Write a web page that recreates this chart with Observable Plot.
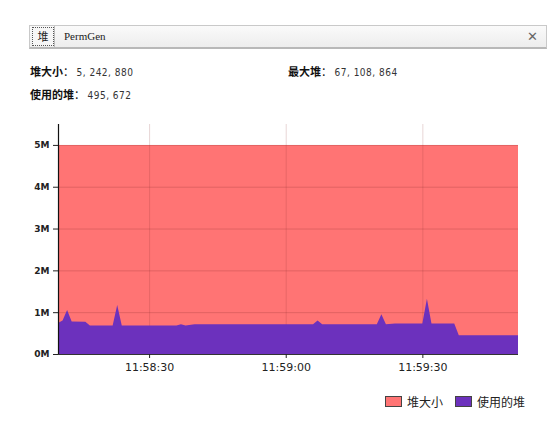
<!DOCTYPE html>
<html><head><meta charset="utf-8">
<script src="https://cdn.jsdelivr.net/npm/d3@7"></script>
<script src="https://cdn.jsdelivr.net/npm/@observablehq/plot@0.6"></script>
<style>
html,body{margin:0;padding:0;background:#fff;width:556px;height:426px;overflow:hidden;font-family:"Noto Sans CJK SC","DejaVu Sans",sans-serif;}
#tabs{position:absolute;left:29px;top:25px;width:516px;height:21px;background:linear-gradient(#fafafa,#ededed);border:1px solid #c9c9c9;border-bottom:2px solid #b8b8b8;}
#tab1{position:absolute;left:2px;top:1px;width:20px;height:17px;border:1px dotted #555;background:#f6f6f6;font-size:11px;line-height:17px;text-align:center;color:#222;}
#tab2{position:absolute;left:24px;top:0;height:21px;border-left:1px solid #bbb;padding-left:9px;font-family:"Liberation Serif","DejaVu Serif",serif;font-size:11px;line-height:21px;color:#222;}
#close{position:absolute;right:8px;top:0;line-height:21px;font-size:13px;color:#666;font-family:"DejaVu Sans",sans-serif;}
.info{position:absolute;font-size:11px;color:#111;}
.info b{font-weight:700;}
.info span{font-family:"DejaVu Sans Condensed","DejaVu Sans",sans-serif;font-size:10px;color:#333;letter-spacing:0.5px;}
#chart{position:absolute;left:0;top:115px;}
#legend{position:absolute;left:385px;top:393px;font-size:12px;color:#222;display:flex;align-items:center;}
.sw{display:inline-block;width:15px;height:9px;border:1px solid #444;margin-right:5px;}
</style></head>
<body>
<div id="tabs"><div id="tab1">堆</div><div id="tab2">PermGen</div><div id="close">✕</div></div>
<div class="info" style="left:30px;top:63px;"><b>堆大小</b>： <span>5, 242, 880</span></div>
<div class="info" style="left:288px;top:63px;"><b>最大堆</b>： <span>67, 108, 864</span></div>
<div class="info" style="left:30px;top:86px;"><b>使用的堆</b>： <span>495, 672</span></div>
<div id="chart"></div>
<div id="legend"><span class="sw" style="background:#ff7474"></span><span style="margin-right:12px">堆大小</span><span class="sw" style="background:#6c31bd"></span><span>使用的堆</span></div>
<script>
// used heap over time (in M)
const times = ["11:58:10","11:58:11","11:58:12","11:58:13","11:58:16","11:58:17","11:58:22","11:58:23","11:58:24","11:58:36","11:58:37","11:58:38","11:58:40","11:59:06","11:59:07","11:59:08","11:59:20","11:59:21","11:59:22","11:59:24","11:59:30","11:59:31","11:59:32","11:59:37","11:59:38","11:59:51"];
const used = [0.74,0.80,1.05,0.78,0.77,0.68,0.68,1.17,0.68,0.68,0.71,0.68,0.71,0.71,0.80,0.71,0.71,0.95,0.71,0.73,0.73,1.32,0.73,0.73,0.45,0.45];
const heapSize = 5; // 5,242,880 bytes = 5M
const xTickLabels = ["11:58:30","11:59:00","11:59:30"];
const yTicks = [0,1,2,3,4,5];
const yMax = 5.5;

const parse = s => new Date(`2000-01-01T${s}Z`);
const data = times.map((t,i)=>({t: parse(t), used: used[i], size: heapSize}));
const fmt = d3.utcFormat("%H:%M:%S");

const chart = Plot.plot({
  width: 556, height: 275,
  marginLeft: 58, marginRight: 38, marginTop: 9, marginBottom: 36,
  style: {fontSize: "10px", fontFamily: "DejaVu Sans, sans-serif", color: "#222", background: "transparent"},
  x: {type: "utc", domain: d3.extent(data, d=>d.t), ticks: xTickLabels.map(parse), tickFormat: fmt, tickSize: 4, tickPadding: 5, label: null},
  y: {domain: [0, yMax], ticks: yTicks, tickFormat: d => d + "M", tickSize: 5, tickPadding: 3, label: null},
  marks: [
    Plot.areaY(data, {x: "t", y: "size", fill: "#ff7474", curve: "linear"}),
    Plot.gridY(yTicks, {stroke: "#8a3030", strokeOpacity: 0.25}),
    Plot.gridX(xTickLabels.map(parse), {stroke: "#8a3030", strokeOpacity: 0.2}),
    Plot.areaY(data, {x: "t", y: "used", fill: "#6c31bd", curve: "linear"}),
    Plot.ruleY([0], {stroke: "#333"}),
    Plot.ruleX(data.slice(0,1), {x: "t", y1: 0, y2: yMax, stroke: "#111", strokeWidth: 1.2}),
    Plot.axisY({ticks: yTicks, tickFormat: d => d + "M", tickSize: 5, fontWeight: "bold", fontSize: 9}),
    Plot.axisX({ticks: xTickLabels.map(parse), tickFormat: fmt, tickSize: 4, fontSize: 11})
  ]
});
document.getElementById("chart").appendChild(chart);
</script>
</body></html>
